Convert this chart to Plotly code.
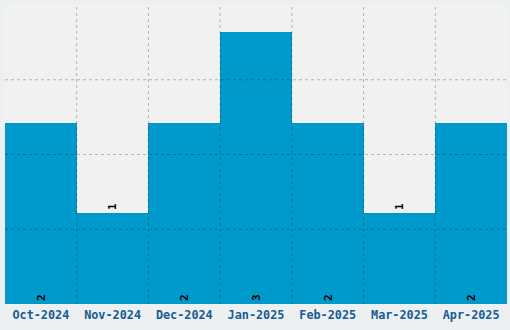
import plotly.graph_objects as go

months = ["Oct-2024", "Nov-2024", "Dec-2024", "Jan-2025", "Feb-2025", "Mar-2025", "Apr-2025"]
counts = [2, 1, 2, 3, 2, 1, 2]

ymax = max(counts) * 1.1
xs = list(range(len(months)))
positions = ["outside" if c < 2 else "inside" for c in counts]
font_lbl = dict(family="DejaVu Sans Mono", size=11, color="#000000", weight="bold")

fig = go.Figure(go.Bar(
    x=xs, y=counts, text=[str(c) for c in counts],
    textposition=positions, insidetextanchor="start", textangle=-90,
    textfont=font_lbl, outsidetextfont=font_lbl, insidetextfont=font_lbl,
    marker=dict(color="#0099cc", line=dict(width=0)),
    cliponaxis=False, hoverinfo="skip",
))

grid = dict(color="rgba(0,0,0,0.25)", width=1, dash="3px,3px")
shapes = []
for i in xs[:-1]:
    shapes.append(dict(type="line", xref="x", yref="paper", x0=i + 0.5, x1=i + 0.5,
                       y0=0, y1=1, line=grid, layer="above"))
for k in range(1, 4):
    shapes.append(dict(type="line", xref="paper", yref="y", x0=0, x1=1,
                       y0=ymax * k / 4, y1=ymax * k / 4, line=grid, layer="above"))

fig.update_layout(
    width=510, height=330,
    margin=dict(l=5, r=3, t=5, b=26),
    paper_bgcolor="#edf0f1", plot_bgcolor="#f1f1f1",
    bargap=0, showlegend=False, shapes=shapes,
    xaxis=dict(
        range=[-0.5, len(months) - 0.5], tickmode="array", tickvals=xs, ticktext=months,
        showgrid=False, zeroline=False, ticks="", ticklabelstandoff=2,
        tickfont=dict(family="DejaVu Sans Mono", size=11.8, color="#175c92", weight="bold"),
    ),
    yaxis=dict(
        range=[0, ymax], showticklabels=False, showgrid=False, zeroline=False, ticks="",
    ),
)

fig.write_html("out.html")
